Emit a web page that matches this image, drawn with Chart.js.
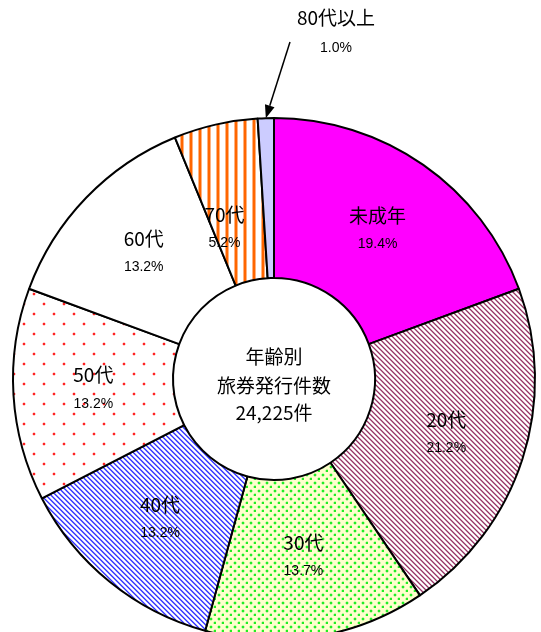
<!DOCTYPE html>
<html>
<head>
<meta charset="utf-8">
<script src="https://cdn.jsdelivr.net/npm/chart.js@4/dist/chart.umd.min.js"></script>
<style>
  html, body { margin: 0; padding: 0; background: #ffffff; }
  #wrap { position: relative; width: 541px; height: 632px; overflow: hidden; }
</style>
</head>
<body>
<div id="wrap"><canvas id="c" width="541" height="632"></canvas></div>
<script>
// ---- data ----
const categories = ['未成年', '20代', '30代', '40代', '50代', '60代', '70代', '80代以上'];
const shares = [19.4, 21.2, 13.7, 13.2, 13.2, 13.2, 5.2, 1.0];
const centerLines = ['年齢別', '旅券発行件数', '24,225件'];

// ---- patterns ----
function tile(w, h, paint) {
  const c = document.createElement('canvas');
  c.width = w; c.height = h;
  const g = c.getContext('2d');
  paint(g, w, h);
  return document.getElementById('c').getContext('2d').createPattern(c, 'repeat');
}
function px(g, x, y, col) { g.fillStyle = col; g.fillRect(x, y, 1, 1); }

const diagStripes = (mid, dark, light) => tile(5, 5, (g, w, h) => {
  g.fillStyle = '#ffffff'; g.fillRect(0, 0, w, h);
  for (let y = 0; y < h; y++) for (let x = 0; x < w; x++) {
    const d = ((x - y) % 5 + 5) % 5;
    if (d === 0) px(g, x, y, mid);
    else if (d === 1) px(g, x, y, dark);
    else if (d === 2) px(g, x, y, light);
  }
});
const dots = (bg, dot, halo, size, offs) => tile(size, size, (g, w, h) => {
  g.fillStyle = bg; g.fillRect(0, 0, w, h);
  offs.forEach(([ox, oy]) => {
    g.fillStyle = halo;
    g.fillRect(ox - 1, oy, 1, 2); g.fillRect(ox + 2, oy, 1, 2);
    g.fillRect(ox, oy - 1, 2, 1); g.fillRect(ox, oy + 2, 2, 1);
    g.fillStyle = dot; g.fillRect(ox, oy, 2, 2);
  });
});
const vStripes = tile(9, 4, (g, w, h) => {
  g.fillStyle = '#ffffff'; g.fillRect(0, 0, w, h);
  g.fillStyle = '#ffb27f'; g.fillRect(0, 0, 1, h); g.fillRect(3, 0, 1, h);
  g.fillStyle = '#ff6600'; g.fillRect(1, 0, 2, h);
});

const fills = [
  '#ff00ff',
  diagStripes('#c08aa5', '#993366', '#e0c2d1'),
  dots('#ffffcc', '#22ee22', '#c4f7a8', 8, [[2, 2], [6, 6]]),
  diagStripes('#7777ff', '#3333ff', '#c4c4ff'),
  dots('#ffffff', '#ff2222', '#ffd0d0', 20, [[3, 3], [13, 13]]),
  '#ffffff',
  vStripes,
  '#ccccff'
];

// ---- labels plugin ----
const labelPlugin = {
  id: 'sliceLabels',
  afterDatasetsDraw(chart) {
    const ctx = chart.ctx;
    const arcs = chart.getDatasetMeta(0).data;
    const nameFont = '19px "Noto Sans CJK JP", sans-serif';
    const pctFont = '14px "Liberation Sans", Arial, sans-serif';
    ctx.save();
    ctx.fillStyle = '#000000';
    ctx.textAlign = 'center';
    ctx.textBaseline = 'middle';
    const nudges = {6: [-9, 27]};
    arcs.forEach((arc, i) => {
      const p = arc.getProps(['x', 'y', 'startAngle', 'endAngle', 'innerRadius', 'outerRadius']);
      const mid = (p.startAngle + p.endAngle) / 2;
      const pct = shares[i].toFixed(1) + '%';
      if (i === arcs.length - 1) {
        // outside label with arrow
        const tipX = p.x + Math.cos(mid) * p.outerRadius;
        const tipY = p.y + Math.sin(mid) * p.outerRadius;
        const lx = p.x + 62, ly = p.y - 361;
        ctx.font = nameFont; ctx.fillText(categories[i], lx, ly);
        ctx.font = pctFont; ctx.fillText(pct, lx, ly + 30);
        const sx = p.x + 16, sy = p.y - 337;
        ctx.strokeStyle = '#000'; ctx.lineWidth = 1.5;
        const ang = Math.atan2(tipY - sy, tipX - sx);
        const hl = 13, hw = 5;
        const bx = tipX - Math.cos(ang) * hl, by = tipY - Math.sin(ang) * hl;
        ctx.beginPath(); ctx.moveTo(sx, sy); ctx.lineTo(bx, by); ctx.stroke();
        ctx.beginPath();
        ctx.moveTo(tipX, tipY);
        ctx.lineTo(bx + Math.sin(ang) * hw, by - Math.cos(ang) * hw);
        ctx.lineTo(bx - Math.sin(ang) * hw, by + Math.cos(ang) * hw);
        ctx.closePath(); ctx.fill();
        return;
      }
      const r = (p.innerRadius + p.outerRadius) / 2;
      let cx = p.x + Math.cos(mid) * r, cy = p.y + Math.sin(mid) * r;
      if (nudges[i]) { cx += nudges[i][0]; cy += nudges[i][1]; }
      ctx.font = nameFont; ctx.fillText(categories[i], cx, cy - 15);
      ctx.font = pctFont; ctx.fillText(pct, cx, cy + 14);
    });
    // center text
    const c0 = arcs[0].getProps(['x', 'y']);
    ctx.font = '19px "Noto Sans CJK JP", sans-serif';
    ctx.fillText(centerLines[0], c0.x, c0.y - 22);
    ctx.fillText(centerLines[1], c0.x, c0.y + 7);
    ctx.fillText(centerLines[2], c0.x, c0.y + 34);
    ctx.restore();
  }
};

new Chart(document.getElementById('c'), {
  type: 'doughnut',
  data: {
    labels: categories,
    datasets: [{
      data: shares,
      backgroundColor: fills,
      borderColor: '#000000',
      borderWidth: 2,
      clip: false
    }]
  },
  options: {
    responsive: false,
    animation: false,
    radius: 261,
    cutout: (101 / 261 * 100) + '%',
    layout: { padding: { left: 7, right: 0, top: 126, bottom: 0 } },
    plugins: { legend: { display: false }, tooltip: { enabled: false } }
  },
  plugins: [labelPlugin]
});
</script>
</body>
</html>
